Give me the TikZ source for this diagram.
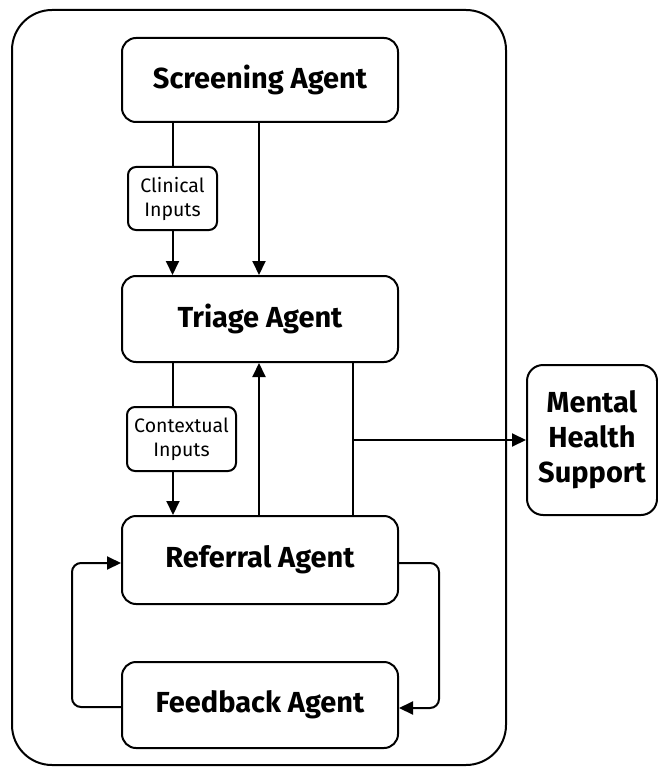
\documentclass[tikz,border=0pt]{standalone}
\usepackage{fontspec}
\setmainfont{Fira Sans}
\usetikzlibrary{arrows.meta,calc}
\begin{document}
\begin{tikzpicture}[x=1pt,y=-1pt,line width=2pt,
  agent/.style={draw,rounded corners=14pt,minimum width=276pt,font=\fontsize{29}{34}\selectfont\bfseries,inner sep=0pt},
  lbl/.style={draw,rounded corners=8pt,font=\fontsize{19.5}{24}\selectfont,align=center,inner sep=0pt},
  arr/.style={-{Triangle[length=14pt,width=13pt]}}]
\useasboundingbox (0,0) rectangle (657,767);
\draw[rounded corners=40pt] (12,10) rectangle (506,765);
\node[agent,minimum height=84pt] (scr) at (260,80) {Screening Agent};
\node[agent,minimum height=86pt] (tri) at (260,319) {Triage Agent};
\node[agent,minimum height=88pt] (ref) at (260,560) {Referral Agent};
\node[agent,minimum height=86pt] (fb) at (260,705) {Feedback Agent};
\node[draw,rounded corners=16pt,minimum width=130pt,minimum height=150pt,align=center,
  font=\fontsize{29}{35}\selectfont\bfseries,inner sep=0pt] (mhs) at (592,440) {Mental\\Health\\Support};
\node[lbl,minimum width=89pt,minimum height=63pt] (clin) at (172.5,198.5) {Clinical\\Inputs};
\node[lbl,minimum width=109pt,minimum height=64pt] (ctx) at (181.5,439) {Contextual\\Inputs};
% screening -> triage
\draw (clin.north |- scr.south) -- (clin.north);
\draw[arr] (clin.south) -- (clin.south |- tri.north);
\draw[arr] ([xshift=-1pt]scr.south) -- ([xshift=-1pt]tri.north);
% triage -> referral
\draw ([xshift=-87pt]tri.south) -- ([xshift=-87pt]tri.south |- ctx.north);
\draw[arr] ([xshift=-87pt]tri.south |- ctx.south) -- ([xshift=-87pt]ref.north);
\draw[arr] ([xshift=-1pt]ref.north) -- ([xshift=-1pt]tri.south);
\draw ([xshift=93pt]tri.south) -- ([xshift=93pt]ref.north);
\coordinate (br) at ([xshift=93pt]tri.south |- mhs.west);
\draw[arr] (br) -- (mhs.west);
% loop
\draw[arr,rounded corners=9pt] ([yshift=-3pt]ref.east) -- ++(40,0) |- ([yshift=-3pt]fb.east);
\draw[arr,rounded corners=9pt] ([yshift=-2pt]fb.west) -- ++(-49,0) |- ([yshift=-3pt]ref.west);
\end{tikzpicture}
\end{document}
